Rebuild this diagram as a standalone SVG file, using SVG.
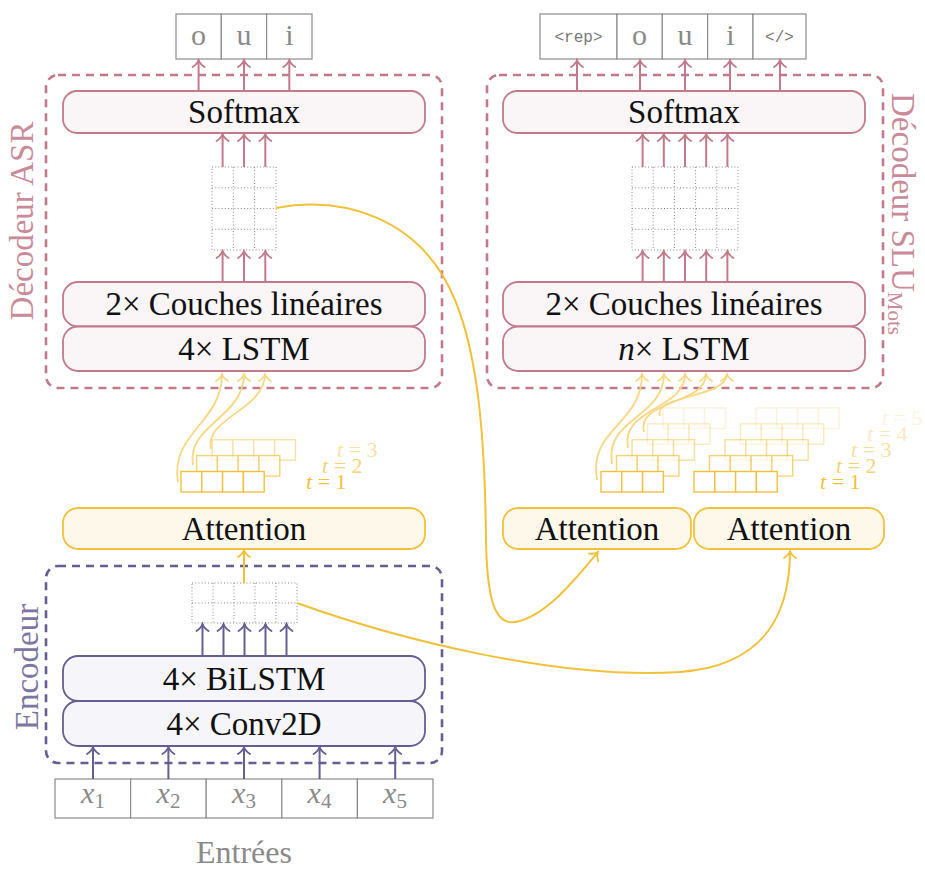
<svg xmlns="http://www.w3.org/2000/svg" xmlns:xlink="http://www.w3.org/1999/xlink" width="925" height="871" viewBox="0 0 925 871">
<style>
.t{font-family:"Liberation Serif","DejaVu Serif",serif;font-size:33px;text-anchor:middle;fill:#111}
.g{font-family:"Liberation Serif","DejaVu Serif",serif;font-size:30px;text-anchor:middle;fill:#8a8a8a}
.m{font-family:"Liberation Mono","DejaVu Sans Mono",monospace;font-size:16px;text-anchor:middle;fill:#777}
.tl{font-family:"Liberation Serif","DejaVu Serif",serif;font-size:22px;fill:#f2c13c}
.pn{fill:#faf5f7;stroke:#c17a8b;stroke-width:1.8}
.en{fill:#f6f5f9;stroke:#665e91;stroke-width:1.8}
.an{fill:#fef8eb;stroke:#f2c13c;stroke-width:1.8}
.dp{fill:none;stroke:#c17a8b;stroke-width:2.6;stroke-dasharray:8 6}
.de{fill:none;stroke:#665e91;stroke-width:2.6;stroke-dasharray:8 6}
.ob{fill:#fff;stroke:#8c8c8c;stroke-width:1.2}
.ap{stroke:#c17a8b;stroke-width:2;fill:none;marker-end:url(#mp)}
.ae{stroke:#665e91;stroke-width:2;fill:none;marker-end:url(#me)}
.ay{stroke:#f2c13c;stroke-width:2;fill:none;marker-end:url(#my)}
.al{stroke:#f7d782;stroke-width:1.8;fill:none;marker-end:url(#ml)}
.grid{fill:none;stroke:#888;stroke-width:1;stroke-dasharray:1 2.2}
.cell{fill:#fff;stroke:#f2c13c;stroke-width:1.4}
</style>
<defs>
<marker id="mp" markerUnits="userSpaceOnUse" viewBox="-10 -8 12 16" markerWidth="12" markerHeight="16" refX="0" refY="0" orient="auto"><path d="M-7,-6 C-4.5,-2.2 -2,-0.6 0,0 C-2,0.6 -4.5,2.2 -7,6" fill="none" stroke="#c17a8b" stroke-width="1.8" stroke-linecap="round"/></marker>
<marker id="me" markerUnits="userSpaceOnUse" viewBox="-10 -8 12 16" markerWidth="12" markerHeight="16" refX="0" refY="0" orient="auto"><path d="M-7,-6 C-4.5,-2.2 -2,-0.6 0,0 C-2,0.6 -4.5,2.2 -7,6" fill="none" stroke="#665e91" stroke-width="1.8" stroke-linecap="round"/></marker>
<marker id="my" markerUnits="userSpaceOnUse" viewBox="-10 -8 12 16" markerWidth="12" markerHeight="16" refX="0" refY="0" orient="auto"><path d="M-7,-6 C-4.5,-2.2 -2,-0.6 0,0 C-2,0.6 -4.5,2.2 -7,6" fill="none" stroke="#f2c13c" stroke-width="1.8" stroke-linecap="round"/></marker>
<marker id="ml" markerUnits="userSpaceOnUse" viewBox="-10 -8 12 16" markerWidth="12" markerHeight="16" refX="0" refY="0" orient="auto"><path d="M-7,-6 C-4.5,-2.2 -2,-0.6 0,0 C-2,0.6 -4.5,2.2 -7,6" fill="none" stroke="#f7d782" stroke-width="1.6" stroke-linecap="round"/></marker>
<g id="r3"><rect class="cell" x="0" y="0" width="20.8" height="20.5"/><rect class="cell" x="20.8" y="0" width="20.8" height="20.5"/><rect class="cell" x="41.6" y="0" width="20.8" height="20.5"/></g>
<g id="r4"><use xlink:href="#r3"/><rect class="cell" x="62.4" y="0" width="20.8" height="20.5"/></g>
</defs>

<g id="decoder-asr">
<rect class="dp" x="46" y="75" width="396" height="313" rx="12"/>
<text class="t" transform="translate(33,221) rotate(-90)" style="fill:#c98a9a">Décodeur ASR</text>
</g>
<g id="decoder-slu">
<rect class="dp" x="487" y="75" width="396" height="313" rx="12"/>
<text class="t" transform="translate(892,93) rotate(90)" style="fill:#c98a9a;text-anchor:start">Décodeur SLU<tspan font-size="21" dy="4">Mots</tspan></text>
</g>
<g id="encoder">
<rect class="de" x="46" y="566" width="396" height="197" rx="12"/>
<text class="t" transform="translate(38,667) rotate(-90)" style="fill:#7d76a2">Encodeur</text>
</g>

<g id="out-asr">
<rect class="ob" x="176" y="14" width="45.3" height="45"/><rect class="ob" x="221.3" y="14" width="45.3" height="45"/><rect class="ob" x="266.6" y="14" width="45.4" height="45"/>
<text class="g" x="198.6" y="45">o</text><text class="g" x="244" y="45">u</text><text class="g" x="289.3" y="45">i</text>
</g>
<g id="out-slu">
<rect class="ob" x="540" y="14" width="77" height="45"/><rect class="ob" x="617" y="14" width="45.3" height="45"/><rect class="ob" x="662.3" y="14" width="45.3" height="45"/><rect class="ob" x="707.6" y="14" width="45.4" height="45"/><rect class="ob" x="753" y="14" width="53" height="45"/>
<text class="m" x="578.5" y="42">&lt;rep&gt;</text><text class="g" x="639.6" y="45">o</text><text class="g" x="685" y="45">u</text><text class="g" x="730.3" y="45">i</text><text class="m" x="779.5" y="42">&lt;/&gt;</text>
</g>

<g id="softmax-asr"><rect class="pn" x="63" y="91" width="362" height="42" rx="14"/><text class="t" x="244" y="123">Softmax</text></g>
<g id="lin-asr"><rect class="pn" x="63" y="282" width="362" height="44.5" rx="15"/><text class="t" x="244" y="315">2× Couches linéaires</text></g>
<g id="lstm-asr"><rect class="pn" x="63" y="326.5" width="362" height="44.5" rx="15"/><text class="t" x="244" y="360">4× LSTM</text></g>
<g id="mat-asr">
<rect class="grid" x="212" y="167" width="64" height="83"/>
<path class="grid" d="M233.3,167V250M254.6,167V250M212,187.8H276M212,208.5H276M212,229.3H276"/>
</g>

<g id="softmax-slu"><rect class="pn" x="503" y="91" width="362" height="42" rx="14"/><text class="t" x="684" y="123">Softmax</text></g>
<g id="lin-slu"><rect class="pn" x="503" y="282" width="362" height="44.5" rx="15"/><text class="t" x="684" y="315">2× Couches linéaires</text></g>
<g id="lstm-slu"><rect class="pn" x="503" y="326.5" width="362" height="44.5" rx="15"/><text class="t" x="684" y="360"><tspan font-style="italic">n</tspan>× LSTM</text></g>
<g id="mat-slu">
<rect class="grid" x="632" y="167" width="106" height="83"/>
<path class="grid" d="M653.2,167V250M674.4,167V250M695.6,167V250M716.8,167V250M632,187.8H738M632,208.5H738M632,229.3H738"/>
</g>

<g id="att-asr"><rect class="an" x="63" y="508" width="362" height="41" rx="15"/><text class="t" x="244" y="540">Attention</text></g>
<g id="att-slu1"><rect class="an" x="503" y="508" width="188" height="41" rx="15"/><text class="t" x="597" y="540">Attention</text></g>
<g id="att-slu2"><rect class="an" x="694" y="508" width="190" height="41" rx="15"/><text class="t" x="789" y="540">Attention</text></g>

<g id="bilstm"><rect class="en" x="63" y="656" width="362" height="45" rx="15"/><text class="t" x="244" y="690">4× BiLSTM</text></g>
<g id="conv2d"><rect class="en" x="63" y="701" width="362" height="45" rx="15"/><text class="t" x="244" y="735">4× Conv2D</text></g>
<g id="mat-enc">
<rect class="grid" x="192" y="583" width="105" height="40"/>
<path class="grid" d="M213,583V623M234,583V623M255,583V623M276,583V623M192,603H297"/>
</g>

<g id="inputs">
<rect class="ob" x="55" y="779" width="75.6" height="39"/><rect class="ob" x="130.6" y="779" width="75.6" height="39"/><rect class="ob" x="206.2" y="779" width="75.6" height="39"/><rect class="ob" x="281.8" y="779" width="75.6" height="39"/><rect class="ob" x="357.4" y="779" width="75.6" height="39"/>
<text class="g" x="93" y="803"><tspan font-style="italic">x</tspan><tspan font-size="21" dy="5">1</tspan></text>
<text class="g" x="168.5" y="803"><tspan font-style="italic">x</tspan><tspan font-size="21" dy="5">2</tspan></text>
<text class="g" x="244" y="803"><tspan font-style="italic">x</tspan><tspan font-size="21" dy="5">3</tspan></text>
<text class="g" x="319.5" y="803"><tspan font-style="italic">x</tspan><tspan font-size="21" dy="5">4</tspan></text>
<text class="g" x="395" y="803"><tspan font-style="italic">x</tspan><tspan font-size="21" dy="5">5</tspan></text>
</g>
<g id="inputs-label"><text class="g" x="244" y="863" style="font-size:32px">Entrées</text></g>

<g id="stack-asr">
<path class="al" d="M211,449 C204,418 265,410 265,374"/>
<path class="al" d="M193,465 C186,425 244,418 244,374"/>
<path class="al" d="M178,482 C170,433 222,423 222,374"/>
<use xlink:href="#r4" x="212.2" y="439.7" opacity="0.45"/>
<use xlink:href="#r4" x="196.6" y="455.6" opacity="0.7"/>
<use xlink:href="#r4" x="181" y="471.5"/>
<text class="tl" x="306" y="489"><tspan font-style="italic">t</tspan> = 1</text>
<text class="tl" x="322" y="473" opacity="0.7"><tspan font-style="italic">t</tspan> = 2</text>
<text class="tl" x="337" y="457" opacity="0.45"><tspan font-style="italic">t</tspan> = 3</text>
</g>
<g id="stack-slu">
<path class="al" d="M660,416 C652,395 727,398 727,374"/>
<path class="al" d="M644,432 C636,400 706,405 706,374"/>
<path class="al" d="M628,448 C620,408 685,410 685,374"/>
<path class="al" d="M612,464 C604,418 664,418 664,374"/>
<path class="al" d="M597,480 C588,428 642,425 642,374"/>
<use xlink:href="#r3" x="663" y="407.9" opacity="0.18"/>
<use xlink:href="#r3" x="647.5" y="423.8" opacity="0.32"/>
<use xlink:href="#r3" x="632" y="439.7" opacity="0.5"/>
<use xlink:href="#r3" x="616.5" y="455.6" opacity="0.7"/>
<use xlink:href="#r3" x="601" y="471.5"/>
<use xlink:href="#r4" x="756" y="407.9" opacity="0.18"/>
<use xlink:href="#r4" x="740.5" y="423.8" opacity="0.32"/>
<use xlink:href="#r4" x="725" y="439.7" opacity="0.5"/>
<use xlink:href="#r4" x="709.5" y="455.6" opacity="0.7"/>
<use xlink:href="#r4" x="694" y="471.5"/>
<text class="tl" x="820" y="489"><tspan font-style="italic">t</tspan> = 1</text>
<text class="tl" x="836" y="473" opacity="0.7"><tspan font-style="italic">t</tspan> = 2</text>
<text class="tl" x="851" y="457" opacity="0.5"><tspan font-style="italic">t</tspan> = 3</text>
<text class="tl" x="867" y="441" opacity="0.32"><tspan font-style="italic">t</tspan> = 4</text>
<text class="tl" x="882" y="425" opacity="0.18"><tspan font-style="italic">t</tspan> = 5</text>
</g>

<g id="connectors">
<path class="ap" d="M198.6,91V60"/><path class="ap" d="M244,91V60"/><path class="ap" d="M289.3,91V60"/>
<path class="ap" d="M577,91V60"/><path class="ap" d="M640,91V60"/><path class="ap" d="M685,91V60"/><path class="ap" d="M730,91V60"/><path class="ap" d="M780,91V60"/>
<path class="ap" d="M222.6,167V134"/><path class="ap" d="M244,167V134"/><path class="ap" d="M265.3,167V134"/>
<path class="ap" d="M222.6,282V251"/><path class="ap" d="M244,282V251"/><path class="ap" d="M265.3,282V251"/>
<path class="ap" d="M642.6,167V134"/><path class="ap" d="M663.8,167V134"/><path class="ap" d="M685,167V134"/><path class="ap" d="M706.2,167V134"/><path class="ap" d="M727.4,167V134"/>
<path class="ap" d="M642.6,282V251"/><path class="ap" d="M663.8,282V251"/><path class="ap" d="M685,282V251"/><path class="ap" d="M706.2,282V251"/><path class="ap" d="M727.4,282V251"/>
<path class="ae" d="M202.5,656V624"/><path class="ae" d="M223.5,656V624"/><path class="ae" d="M244.5,656V624"/><path class="ae" d="M265.5,656V624"/><path class="ae" d="M286.5,656V624"/>
<path class="ae" d="M93,779V747"/><path class="ae" d="M168.4,779V747"/><path class="ae" d="M244,779V747"/><path class="ae" d="M319.6,779V747"/><path class="ae" d="M395.2,779V747"/>
<path class="ay" d="M244,583V550"/>
<path class="ay" d="M276,208 C340,196 420,215 455,300 C480,360 485,450 486,540 C487,600 495,625 515,622 C545,617 575,580 598,552"/>
<path class="ay" d="M297,603 C400,640 560,680 680,672 C760,666 790,620 790,551"/>
</g>
</svg>
